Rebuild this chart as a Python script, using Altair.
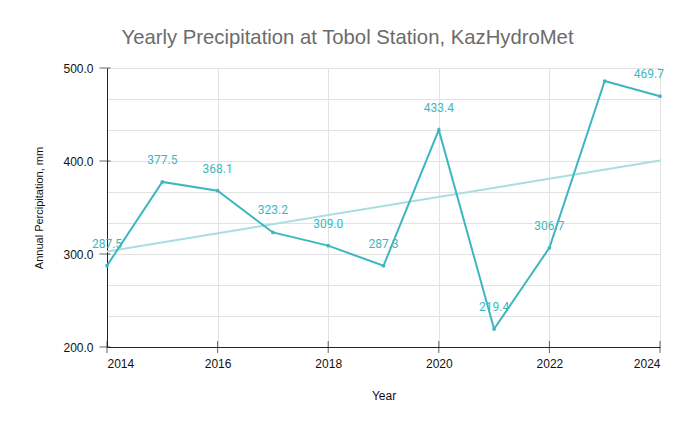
import altair as alt
import pandas as pd

years = [2014, 2015, 2016, 2017, 2018, 2019, 2020, 2021, 2022, 2023, 2024]
precip = [287.5, 377.5, 368.1, 323.2, 309.0, 287.3, 433.4, 219.4, 306.7, 486.0, 469.7]
# years whose value label is drawn (the 2023 label falls outside the plot in the original)
labelled_years = [2014, 2015, 2016, 2017, 2018, 2019, 2020, 2021, 2022]
edge_label_years = [2024]
x_tick_values = [2014, 2016, 2018, 2020, 2022, 2024]
y_tick_values = [200, 300, 400, 500]
y_grid_values = [200, 233.333, 266.667, 300, 333.333, 366.667, 400, 433.333, 466.667, 500]

TEAL = "#3db7bf"
TREND = "#a8dee1"
GRID = "#e2e2e2"
AXIS = "#222222"

df = pd.DataFrame({"Year": years, "Precip": precip})
df["Label"] = [f"{v:.1f}" for v in precip]
lab_df = df[df["Year"].isin(labelled_years)]
edge_df = df[df["Year"].isin(edge_label_years)]

x_enc = alt.X(
    "Year:Q",
    scale=alt.Scale(domain=[2014, 2024], nice=False, zero=False),
    axis=alt.Axis(
        title="Year", values=x_tick_values, format="d", grid=True, gridColor=GRID,
        ticks=False, tickSize=0, labelPadding=11, titlePadding=21,
        domainColor=AXIS, labelColor="#111", titleColor="#111",
        labelFontSize=12, titleFontSize=12, titleFontWeight="normal",
    ),
)
y_enc = alt.Y(
    "Precip:Q",
    scale=alt.Scale(domain=[200, 500], nice=False, zero=False),
    axis=alt.Axis(
        title="Annual Percipitation, mm", values=y_grid_values,
        labelExpr="datum.value % 100 == 0 ? format(datum.value, '.1f') : ''",
        grid=True, gridColor=GRID, ticks=False, tickSize=0, labelPadding=14,
        titlePadding=18, domainColor=AXIS, labelColor="#111", titleColor="#111",
        labelFontSize=12, titleFontSize=11, titleFontWeight="normal",
    ),
)

base = alt.Chart(df).encode(x=x_enc, y=y_enc)

trend = base.transform_regression("Year", "Precip").mark_line(
    color=TREND, strokeWidth=2
)
line = base.mark_line(color=TEAL, strokeWidth=2)
pts = base.mark_circle(color=TEAL, size=14, opacity=1)
labels = alt.Chart(lab_df).mark_text(
    color=TEAL, fontSize=12, font="Roboto", baseline="middle", dy=-22
).encode(x=x_enc, y=y_enc, text="Label:N")
edge_labels = alt.Chart(edge_df).mark_text(
    color=TEAL, fontSize=12, font="Roboto", baseline="middle", align="right", dx=4, dy=-22
).encode(x=x_enc, y=y_enc, text="Label:N")

xt = alt.Chart(pd.DataFrame({"Year": x_tick_values, "Precip": [200] * len(x_tick_values)})).mark_tick(
    orient="vertical", size=12, thickness=1, color=AXIS
).encode(x=x_enc, y=y_enc)
yt = alt.Chart(pd.DataFrame({"Year": [2014] * len(y_tick_values), "Precip": y_tick_values})).mark_tick(
    orient="horizontal", size=11, thickness=1, color=AXIS, xOffset=-2
).encode(x=x_enc, y=y_enc)

chart = alt.layer(trend, line, pts, labels, edge_labels, xt, yt).properties(
    width=553,
    height=279,
    title=alt.TitleParams(
        "Yearly Precipitation at Tobol Station, KazHydroMet",
        fontSize=20.3, color="#6b6b6b", fontWeight="normal", font="Liberation Sans",
        anchor="middle", dx=-36, offset=14,
    ),
    autosize=alt.AutoSizeParams(type="none"),
    padding={"left": 99, "top": 60, "right": 5, "bottom": 60},
).configure(font="Liberation Sans").configure_view(stroke=None)

chart.save("out.html", embed_options={"renderer": "svg", "actions": False})
